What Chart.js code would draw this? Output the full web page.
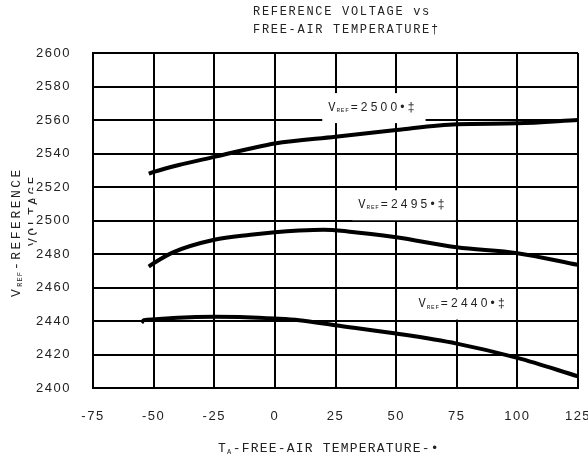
<!DOCTYPE html>
<html lang="en">

<head>
    <meta charset="UTF-8">
    <title>Reference Voltage vs Free-Air Temperature</title>
    <script src="https://cdn.jsdelivr.net/npm/chart.js"></script>
    <style>
        html, body { margin: 0; padding: 0; background: #fff; }
        canvas { display: block; }
    </style>
</head>

<body>
    <canvas id="graficoVref" width="588" height="463"></canvas>

    <script>
        // Curvas de VREF (mV) em funcao da temperatura (°C)
        const temp2500 = [-52, -50, -40, -25, -10, 0, 25, 50, 75, 100, 125];
        const vref2500 = [2528, 2529, 2533, 2538, 2543, 2546, 2550, 2554, 2557.5, 2558, 2560];

        const temp2495 = [-52, -50, -42, -25, -10, 0, 10, 20, 30, 50, 75, 100, 125];
        const vref2495 = [2472.5, 2474.5, 2481, 2488.5, 2491.5, 2493, 2494, 2494.5, 2493.5, 2490, 2484, 2480.5, 2473.5];

        const temp2440 = [-55, -54, -50, -40, -25, -12, 0, 10, 25, 50, 75, 100, 125];
        const vref2440 = [2439, 2440.5, 2441, 2442, 2442.5, 2442.3, 2441.5, 2440.5, 2437.5, 2432.5, 2426.5, 2418, 2407];

        // ticks dos eixos
        const xTicks = [-75, -50, -25, 0, 25, 50, 75, 100, 125];
        const yTicks = [2400, 2420, 2440, 2460, 2480, 2500, 2520, 2540, 2560, 2580, 2600];

        // rotulos das curvas
        const nomesCurvas = ['2500', '2495', '2440'];

        // onde cada rotulo fica (em coordenadas do grafico)
        const posRotulos = [
            { t: 22, v: 2568 },
            { t: 34.4, v: 2510 },
            { t: 59.2, v: 2450.7 }
        ];

        const corTexto = '#222';
        const mono = "'Liberation Mono', monospace";
        const sans = "'Liberation Sans', Arial, sans-serif";

        function pontos(xs, ys) {
            return xs.map((x, i) => ({ x: x, y: ys[i] }));
        }

        // escreve letra por letra para imitar o espacamento largo do original
        function escrever(ctx, texto, x, y, fonte, espaco) {
            ctx.font = fonte;
            for (const ch of texto) {
                ctx.fillText(ch, x, y);
                x += ctx.measureText(ch).width + espaco;
            }
            return x;
        }

        const pluginTextos = {
            id: 'textos',
            beforeDraw(chart) {
                const ctx = chart.ctx;
                // usado pelos ticks do Chart.js
                ctx.letterSpacing = '1.5px';

                ctx.save();
                ctx.letterSpacing = '0px';
                ctx.fillStyle = corTexto;
                ctx.textBaseline = 'alphabetic';
                ctx.textAlign = 'left';

                // titulo
                escrever(ctx, 'REFERENCE VOLTAGE vs', 253, 14.5, '12px ' + mono, 1.7);
                escrever(ctx, 'FREE-AIR TEMPERATURE\u2020', 253, 32.5, '12px ' + mono, 1.7);

                // titulo do eixo x
                let x = escrever(ctx, 'T', 218, 452, '13px ' + mono, 1.2);
                x = escrever(ctx, 'A', x, 454, '7px ' + mono, 0.6);
                escrever(ctx, '-FREE-AIR TEMPERATURE-\u2022', x + 1, 452, '13px ' + mono, 1.2);

                // titulo do eixo y (duas linhas, a segunda fica atras dos ticks)
                ctx.save();
                ctx.translate(19.5, 297);
                ctx.rotate(-Math.PI / 2);
                x = escrever(ctx, 'V', 0, 0, '13px ' + mono, 2.5);
                x = escrever(ctx, 'REF', x, 2, '7px ' + mono, 1);
                escrever(ctx, '-REFERENCE', x + 1, 0, '13px ' + mono, 2.5);
                ctx.restore();

                ctx.save();
                ctx.translate(37, 246);
                ctx.rotate(-Math.PI / 2);
                escrever(ctx, 'VOLTAGE', 0, 0, '13px ' + mono, 2.5);
                ctx.restore();

                ctx.restore();
            },
            beforeDatasetsDraw(chart) {
                const ctx = chart.ctx;
                const sx = chart.scales.x;
                const sy = chart.scales.y;

                ctx.save();
                ctx.letterSpacing = '0px';
                ctx.textBaseline = 'alphabetic';
                ctx.textAlign = 'left';

                posRotulos.forEach((p, i) => {
                    const x0 = sx.getPixelForValue(p.t);
                    const yc = sy.getPixelForValue(p.v);

                    // primeiro mede o texto (tinta transparente), depois pinta a caixa branca
                    ctx.fillStyle = 'rgba(0,0,0,0)';
                    let fim = escrever(ctx, 'V', x0, yc + 4, '12px ' + mono, 1);
                    fim = escrever(ctx, 'REF', fim, yc + 5.5, '6px ' + mono, 0.8);
                    fim = escrever(ctx, '=' + nomesCurvas[i] + '\u2022\u2021', fim + 1, yc + 4, '12px ' + sans, 3.2);

                    ctx.fillStyle = '#fff';
                    ctx.fillRect(x0 - 6, yc - 13.5, fim - x0 + 14, 30);

                    ctx.fillStyle = corTexto;
                    let xx = escrever(ctx, 'V', x0, yc + 4, '12px ' + mono, 1);
                    xx = escrever(ctx, 'REF', xx, yc + 5.5, '6px ' + mono, 0.8);
                    escrever(ctx, '=' + nomesCurvas[i] + '\u2022\u2021', xx + 1, yc + 4, '12px ' + sans, 3.2);
                });

                ctx.restore();
            }
        };

        const estiloLinha = {
            borderColor: '#000',
            backgroundColor: '#000',
            borderWidth: 4,
            pointRadius: 0,
            fill: false,
            cubicInterpolationMode: 'monotone'
        };

        const dataVref = {
            datasets: [
                { label: 'VREF=2500', data: pontos(temp2500, vref2500), ...estiloLinha },
                { label: 'VREF=2495', data: pontos(temp2495, vref2495), ...estiloLinha },
                { label: 'VREF=2440', data: pontos(temp2440, vref2440), ...estiloLinha }
            ]
        };

        const configVref = {
            type: 'line',
            data: dataVref,
            plugins: [pluginTextos],
            options: {
                responsive: false,
                devicePixelRatio: 1,
                animation: false,
                layout: {
                    padding: { top: 53, right: 10, bottom: 0, left: 0 }
                },
                plugins: {
                    legend: { display: false },
                    tooltip: { enabled: false },
                    title: { display: false }
                },
                scales: {
                    x: {
                        type: 'linear',
                        min: -75,
                        max: 125,
                        afterBuildTicks: (s) => { s.ticks = xTicks.map(v => ({ value: v })); },
                        afterFit: (s) => { s.height = 75; s.paddingLeft = 0; s.paddingRight = 0; },
                        grid: { color: '#000', lineWidth: 2, drawTicks: false },
                        border: { color: '#000', width: 2 },
                        ticks: {
                            padding: 21,
                            color: corTexto,
                            maxRotation: 0,
                            autoSkip: false,
                            font: { family: sans, size: 13 },
                            callback: (v) => String(v)
                        }
                    },
                    y: {
                        type: 'linear',
                        min: 2400,
                        max: 2600,
                        afterBuildTicks: (s) => { s.ticks = yTicks.map(v => ({ value: v })); },
                        afterFit: (s) => { s.width = 93; },
                        grid: { color: '#000', lineWidth: 2, drawTicks: false },
                        border: { color: '#000', width: 2 },
                        ticks: {
                            padding: 22,
                            color: corTexto,
                            autoSkip: false,
                            font: { family: sans, size: 13 },
                            showLabelBackdrop: true,
                            backdropColor: '#fff',
                            backdropPadding: { x: 9, y: 4 },
                            callback: (v) => String(v)
                        }
                    }
                }
            }
        };

        const graficoVref = new Chart(
            document.getElementById('graficoVref'),
            configVref
        );
    </script>
</body>

</html>
